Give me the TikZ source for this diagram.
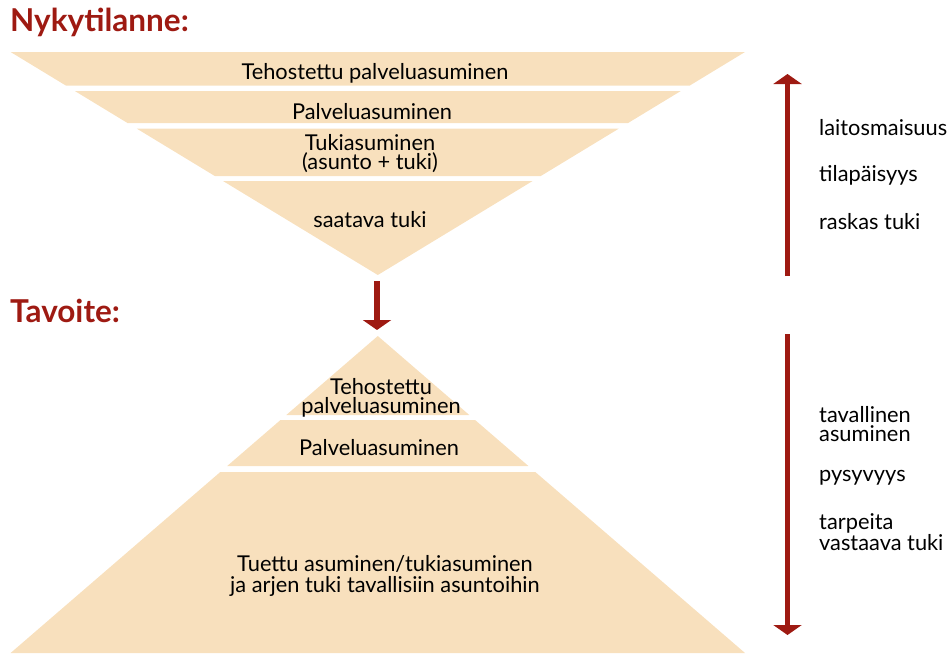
\documentclass[tikz,border=0pt]{standalone}
\usepackage{fontspec}
\setmainfont{Lato}
\usetikzlibrary{arrows.meta}
\definecolor{band}{HTML}{F8E0BD}
\definecolor{dred}{HTML}{9E1A12}
\tikzset{
  bandfill/.style={fill=band, draw=none},
  lbl/.style={inner sep=0pt, align=center, font=\fontsize{21.8}{19.5}\selectfont},
  sidelbl/.style={inner sep=0pt, anchor=west, align=left, font=\fontsize{21.8}{19.5}\selectfont},
  heading/.style={inner sep=0pt, anchor=west, text=dred, font=\fontsize{31.5}{33}\selectfont\bfseries},
  redarrow/.style={draw=dred, line width=5.5pt, -{Triangle[width=28pt,length=10pt]}},
}
\begin{document}
\begin{tikzpicture}[x=1pt,y=-1pt]
\useasboundingbox (0,0) rectangle (949,653);
% top inverted pyramid
\fill[bandfill] (10.6,52) -- (745.0,52) -- (689.5,85.7) -- (66.1,85.7) -- cycle;
\fill[bandfill] (74.8,91) -- (680.8,91) -- (628.1,123) -- (127.5,123) -- cycle;
\fill[bandfill] (136.9,128.7) -- (618.7,128.7) -- (540.8,176) -- (214.8,176) -- cycle;
\fill[bandfill] (223.0,181) -- (532.6,181) -- (377.8,275) -- cycle;
% bottom pyramid
\fill[bandfill] (377.8,336) -- (469.3,415) -- (286.3,415) -- cycle;
\fill[bandfill] (280.5,420) -- (475.1,420) -- (528.4,466) -- (227.2,466) -- cycle;
\fill[bandfill] (220.3,472) -- (535.3,472) -- (745.0,653) -- (10.6,653) -- cycle;
% headings
\node[heading] (h1) at (10,22) {Nykytilanne:};
\node[heading] (h2) at (10,311) {Tavoite:};
% top texts
\node[lbl] (t1) at (375,73.5) {Tehostettu palveluasuminen};
\node[lbl] (t2) at (372,111.5) {Palveluasuminen};
\node[lbl] (t3) at (370,153.5) {Tukiasuminen\\(asunto + tuki)};
\node[lbl] (t4) at (370,220) {saatava tuki};
% bottom texts
\node[lbl] (b1) at (381,398) {Tehostettu\\palveluasuminen};
\node[lbl] (b2) at (379,447.5) {Palveluasuminen};
\node[lbl, font=\fontsize{21.8}{21.7}\selectfont] (b3) at (385,576) {Tuettu asuminen/tukiasuminen\\ja arjen tuki tavallisiin asuntoihin};
% right texts
\node[sidelbl] (r1) at (819,128) {laitosmaisuus};
\node[sidelbl] (r2) at (819,175) {tilapäisyys};
\node[sidelbl] (r3) at (819,222) {raskas tuki};
\node[sidelbl] (r4) at (819,424) {tavallinen\\asuminen};
\node[sidelbl] (r5) at (819,478) {pysyvyys};
\node[sidelbl] (r6) at (819,532) {tarpeita\\vastaava tuki};
% arrows
\coordinate (ma) at (377,281);
\coordinate (mb) at (377,330);
\draw[redarrow, line width=6.5pt] (ma) -- (mb);
\coordinate (ua) at (787.5,276);
\coordinate (ub) at (787.5,74);
\draw[redarrow] (ua) -- (ub);
\coordinate (da) at (787.5,334);
\coordinate (db) at (787.5,635);
\draw[redarrow] (da) -- (db);
\end{tikzpicture}
\end{document}
